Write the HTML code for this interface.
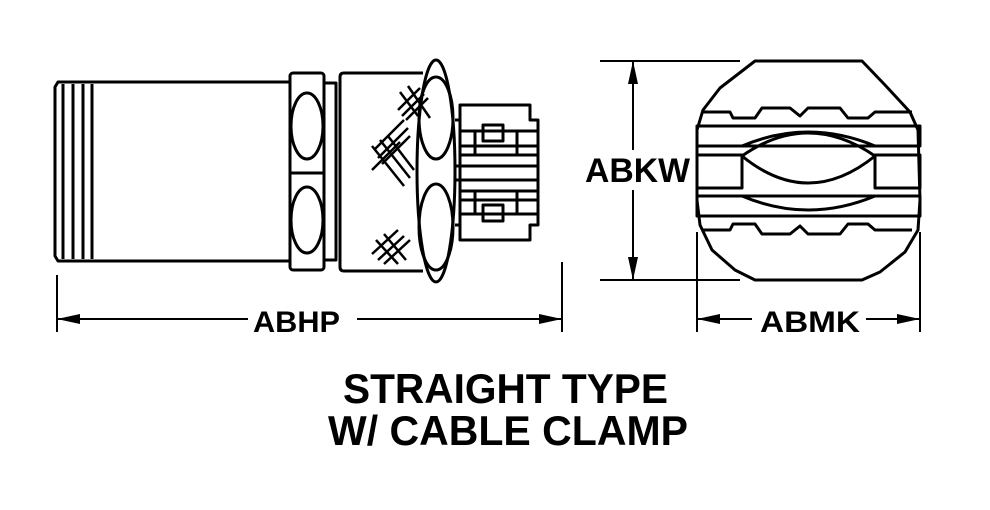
<!DOCTYPE html>
<html><head><style>
html,body{margin:0;padding:0;background:#fff;}
svg{display:block;}
text{font-family:"Liberation Sans",Arial,sans-serif;font-weight:bold;fill:#000;}
</style></head><body>
<svg width="990" height="510" viewBox="0 0 990 510" xmlns="http://www.w3.org/2000/svg">
<g fill="none" stroke="#000" stroke-width="3" stroke-linejoin="round">
<!-- threaded body -->
<path d="M58,82 L290,82 L290,261 L58,261 L55,256 L55,87 Z"/>
<line x1="63" y1="84" x2="63" y2="259"/>
<line x1="73" y1="84" x2="73" y2="259"/>
<line x1="83" y1="84" x2="83" y2="259"/>
<line x1="92" y1="84" x2="92" y2="259"/>
<!-- nut -->
<rect x="290" y="73" width="34" height="197" rx="3"/>
<ellipse cx="307" cy="126" rx="16" ry="33"/>
<ellipse cx="307" cy="220" rx="16" ry="33"/>
<line x1="290" y1="173" x2="324" y2="173"/>
<rect x="324" y="83" width="12" height="177"/>
<!-- body -->
<path d="M423,73 L344,73 Q340,73 340,77 L340,267 Q340,271 344,271 L423,271"/>
<!-- big oval -->
<ellipse cx="436" cy="171" rx="19" ry="111"/>
<ellipse cx="436" cy="118" rx="17" ry="41"/>
<ellipse cx="436" cy="227" rx="17" ry="43"/>
<!-- plug -->
<path d="M460,105 L530,105 L530,120 L538,120 L538,225 L530,225 L530,240 L460,240 Z"/>
<line x1="455" y1="120" x2="460" y2="120"/>
<line x1="455" y1="225" x2="460" y2="225"/>
<rect x="455" y="166" width="83" height="14"/>
<rect x="483" y="125" width="20" height="16"/>
<rect x="483" y="205" width="20" height="16"/>
<line x1="460" y1="131" x2="538" y2="131"/><line x1="460" y1="146" x2="538" y2="146"/>
<line x1="460" y1="155" x2="538" y2="155"/><line x1="460" y1="191" x2="538" y2="191"/>
<line x1="460" y1="200" x2="538" y2="200"/><line x1="460" y1="214" x2="538" y2="214"/>
<line x1="475" y1="131" x2="475" y2="155"/><line x1="517" y1="131" x2="517" y2="155"/>
<line x1="475" y1="191" x2="475" y2="214"/><line x1="517" y1="191" x2="517" y2="214"/>
<!-- hatch marks -->
<g stroke-width="2.5">
<path d="M398,110 L420,88 M402,116 L424,94 M406,120 L428,98 M408,86 L430,118 M400,92 L418,116"/>
<path d="M374,150 L404,120 M378,158 L408,128 M382,164 L410,136 M372,170 L400,142 M372,146 L404,186 M380,140 L410,178 M388,136 L414,170"/>
<path d="M372,254 L398,230 M378,260 L404,236 M384,264 L410,240 M376,240 L398,264 M384,234 L406,260"/>
</g>
<!-- right view -->
<path d="M755,61 L862,61 L885,85 L910,112 L918,130 L920,200 L918,230 L905,252 L880,272 L862,280 L755,280 L735,270 L712,250 L700,225 L697,200 L697,130 L703,110 L720,88 Z"/>
<rect x="697" y="126" width="223" height="20"/>
<rect x="697" y="196" width="223" height="20"/>
<rect x="697" y="155" width="45" height="33"/>
<rect x="875" y="155" width="45" height="33"/>
<path d="M742,156 Q808,110 875,156 Q808,210 742,156"/>
<path d="M742,146 Q808,118 875,146"/>
<path d="M742,196 Q808,224 875,196"/>
<path d="M703,112 L730,112 L733,118 L755,118 L762,108 L790,108 L800,116 L808,108 L840,108 L848,118 L868,118 L875,112 L912,112"/>
<path d="M703,230 L730,230 L733,224 L755,224 L762,234 L790,234 L800,226 L808,234 L840,234 L848,224 L868,224 L875,230 L912,230"/>
</g>
<!-- dimensions -->
<g stroke="#000" stroke-width="2" fill="#000">
<line x1="57" y1="275" x2="57" y2="332"/>
<line x1="562" y1="262" x2="562" y2="332"/>
<line x1="57" y1="319" x2="248" y2="319"/>
<line x1="357" y1="319" x2="562" y2="319"/>
<polygon points="57,319 80,314 80,324" stroke="none"/>
<polygon points="562,319 539,314 539,324" stroke="none"/>
<line x1="600" y1="61" x2="740" y2="61"/>
<line x1="600" y1="280" x2="740" y2="280"/>
<line x1="633" y1="61" x2="633" y2="150"/>
<line x1="633" y1="190" x2="633" y2="280"/>
<polygon points="633,61 628,84 638,84" stroke="none"/>
<polygon points="633,280 628,257 638,257" stroke="none"/>
<line x1="697" y1="232" x2="697" y2="332"/>
<line x1="920" y1="232" x2="920" y2="332"/>
<line x1="697" y1="319" x2="752" y2="319"/>
<line x1="866" y1="319" x2="920" y2="319"/>
<polygon points="697,319 720,314 720,324" stroke="none"/>
<polygon points="920,319 897,314 897,324" stroke="none"/>
</g>
<text x="253" y="332" font-size="30" textLength="87" lengthAdjust="spacingAndGlyphs">ABHP</text>
<text x="585" y="182" font-size="34" textLength="105" lengthAdjust="spacingAndGlyphs">ABKW</text>
<text x="760" y="332" font-size="30" textLength="100" lengthAdjust="spacingAndGlyphs">ABMK</text>
<text x="343" y="403" font-size="42" textLength="325" lengthAdjust="spacingAndGlyphs">STRAIGHT TYPE</text>
<text x="328" y="445" font-size="42" textLength="360" lengthAdjust="spacingAndGlyphs">W/ CABLE CLAMP</text>
</svg>
</body></html>
